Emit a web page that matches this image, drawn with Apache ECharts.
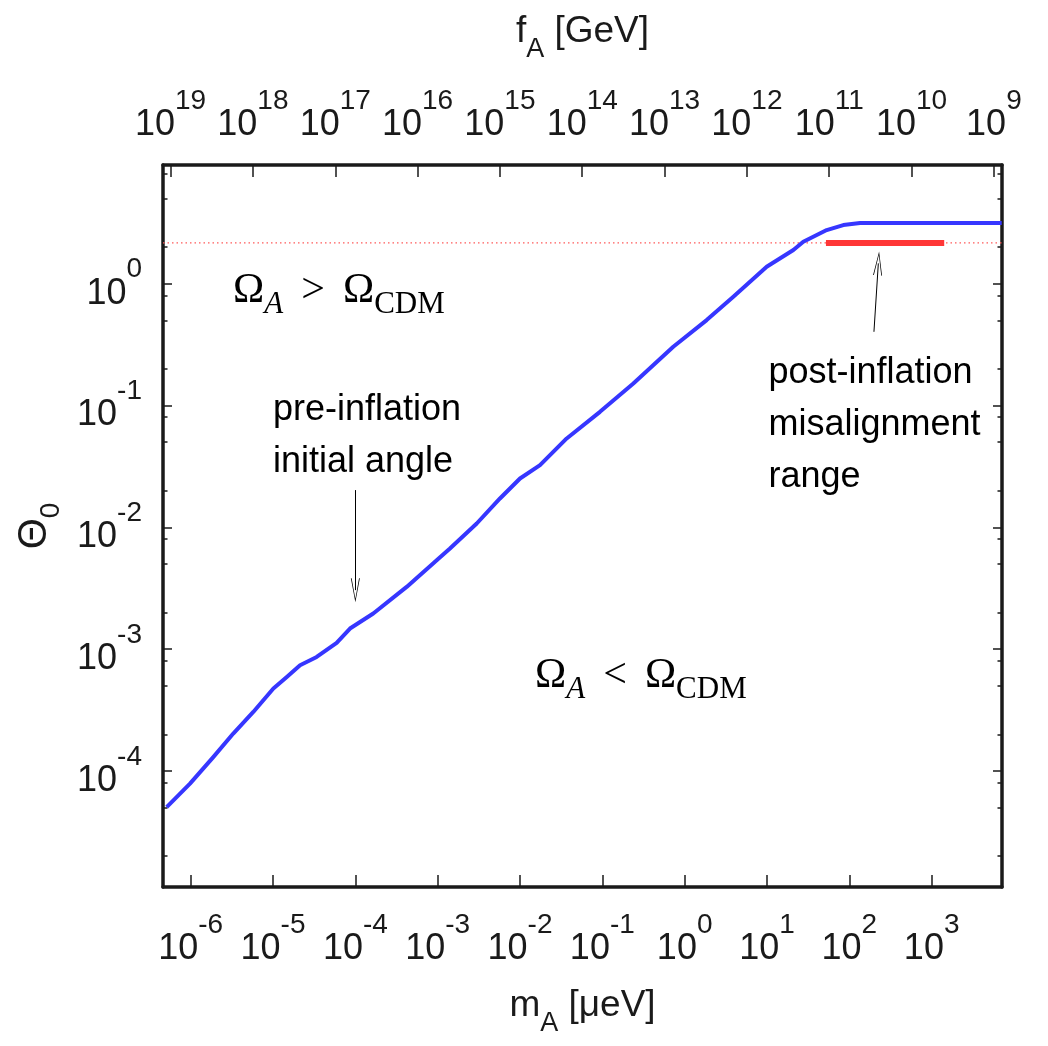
<!DOCTYPE html>
<html>
<head>
<meta charset="utf-8">
<title>Theta_0 vs m_A</title>
<script src="https://cdn.jsdelivr.net/npm/echarts@6/dist/echarts.min.js"></script>
<style>
  html, body { margin: 0; padding: 0; background: #fff; }
  #chart { width: 1048px; height: 1046px; }
</style>
</head>
<body>
<div id="chart"></div>
<script>
// axion mass m_A [μeV] and initial misalignment angle Θ_0
const massValues = [
  5.11e-7, 9.81e-7, 1.88e-6, 3.29e-6, 5.76e-6, 1.01e-5, 1.47e-5, 2.13e-5,
  3.39e-5, 5.93e-5, 8.61e-5, 1.65e-4, 4.20e-4, 9.73e-4, 1.41e-3, 2.98e-3,
  5.71e-3, 1.00e-2, 1.75e-2, 3.69e-2, 9.36e-2, 0.238, 0.727, 1.85,
  3.90, 9.91, 20.9, 27.6, 53.1, 84.5, 135, 7090
]
const thetaValues = [
  5.06e-5, 7.88e-5, 1.30e-4, 2.03e-4, 3.05e-4, 4.75e-4, 5.91e-4, 7.38e-4,
  8.63e-4, 1.125e-3, 1.476e-3, 1.96e-3, 3.24e-3, 5.37e-3, 6.70e-3, 1.074e-2,
  1.724e-2, 2.516e-2, 3.236e-2, 5.36e-2, 8.86e-2, 0.1516, 0.3028, 0.5017,
  0.779, 1.374, 1.884, 2.204, 2.75, 3.022, 3.14, 3.14
]

// post-inflation range (mass window) and its average angle
const postInflationMass = [52, 1420]
const postInflationTheta = 2.155

// axis ranges
const massRange = [4.61e-7, 7.15e3]
const thetaRange = [1.117e-5, 9.40]
// f_A [GeV] = F_CONV / m_A [μeV]
const F_CONV = 5.7e12

// tick positions
const massTicks = [1e-6, 1e-5, 1e-4, 1e-3, 1e-2, 1e-1, 1, 10, 100, 1000]
const faTicks = [1e9, 1e10, 1e11, 1e12, 1e13, 1e14, 1e15, 1e16, 1e17, 1e18, 1e19]
const thetaTicks = [1e-4, 1e-3, 1e-2, 1e-1, 1]
const thetaMinorTicks = [
  2e-5, 5e-5, 8e-5, 2e-4, 5e-4, 8e-4, 2e-3, 5e-3, 8e-3,
  2e-2, 5e-2, 8e-2, 0.2, 0.5, 0.8, 2, 5, 8
]

const SANS = "'Liberation Sans', Arial, sans-serif"
const SERIF = "'Liberation Serif', 'DejaVu Serif', serif"
const INK = '#1a1a1a'

// open arrow head, tip pointing up
const ARROW = 'path://M5,0 L10,24 L9.1,24 L5,3.5 L0.9,24 L0,24 Z'

const powLabel = v => '{b|10}{s|' + Math.round(Math.log10(v)) + '}'

const tickRich = {
  b: { fontFamily: SANS, fontSize: 36, lineHeight: 56, verticalAlign: 'bottom', color: INK },
  s: { fontFamily: SANS, fontSize: 28, lineHeight: 30, verticalAlign: 'top', color: INK }
}

const titleRich = {
  n: { fontFamily: SANS, fontSize: 37, lineHeight: 50, verticalAlign: 'top', color: INK },
  i: { fontFamily: SANS, fontSize: 27, lineHeight: 28, verticalAlign: 'bottom', color: INK }
}

const omegaRich = {
  o: { fontFamily: SERIF, fontSize: 42, lineHeight: 50, verticalAlign: 'top', color: '#000' },
  r: { fontFamily: SERIF, fontSize: 42, lineHeight: 50, verticalAlign: 'top', color: '#000', padding: [0, 18] },
  a: { fontFamily: SERIF, fontStyle: 'italic', fontSize: 31, lineHeight: 26, verticalAlign: 'bottom', color: '#000' },
  c: { fontFamily: SERIF, fontSize: 31, lineHeight: 26, verticalAlign: 'bottom', color: '#000' }
}

const axisLine = { show: true, lineStyle: { color: INK, width: 3.5 } }
const majorTick = (len, values) => ({
  show: true, inside: true, length: len, customValues: values,
  lineStyle: { color: INK, width: 1.5 }
})

const chart = echarts.init(document.getElementById('chart'), null, { renderer: 'canvas' })

const option = {
  animation: false,
  backgroundColor: '#fff',
  grid: { left: 163, right: 46, top: 165, bottom: 159, outerBoundsMode: 'none' },
  xAxis: [
    {
      type: 'log', position: 'bottom',
      min: massRange[0], max: massRange[1],
      axisLine: axisLine,
      axisTick: majorTick(12, massTicks),
      axisLabel: { margin: 24, customValues: massTicks, formatter: powLabel, rich: tickRich },
      splitLine: { show: false },
      name: '{n|m}{i|A}{n| [μeV]}',
      nameLocation: 'middle', nameGap: 100,
      nameTextStyle: { rich: titleRich }
    },
    {
      type: 'log', position: 'top', inverse: true,
      min: F_CONV / massRange[1], max: F_CONV / massRange[0],
      axisLine: axisLine,
      axisTick: majorTick(12, faTicks),
      axisLabel: { margin: 22, customValues: faTicks, formatter: powLabel, rich: tickRich },
      splitLine: { show: false },
      name: '{n|f}{i|A}{n| [GeV]}',
      nameLocation: 'middle', nameGap: 102,
      nameTextStyle: { rich: titleRich }
    }
  ],
  yAxis: [
    {
      type: 'log', position: 'left',
      min: thetaRange[0], max: thetaRange[1],
      axisLine: axisLine,
      axisTick: majorTick(9, thetaTicks),
      axisLabel: { margin: 21, customValues: thetaTicks, formatter: powLabel, rich: tickRich },
      splitLine: { show: false },
      name: '{t|Θ}{i|0}',
      nameLocation: 'middle', nameGap: 98, nameRotate: 90,
      nameTextStyle: {
        rich: {
          t: { fontFamily: SANS, fontSize: 40, lineHeight: 50, verticalAlign: 'top', color: INK },
          i: { fontFamily: SANS, fontSize: 28, lineHeight: 28, verticalAlign: 'bottom', color: INK }
        }
      }
    },
    {
      type: 'log', position: 'left',
      min: thetaRange[0], max: thetaRange[1],
      axisLine: { show: false },
      axisTick: majorTick(4.5, thetaMinorTicks),
      axisLabel: { show: false },
      splitLine: { show: false }
    },
    {
      type: 'log', position: 'right',
      min: thetaRange[0], max: thetaRange[1],
      axisLine: axisLine,
      axisTick: majorTick(9, thetaTicks),
      axisLabel: { show: false },
      splitLine: { show: false }
    },
    {
      type: 'log', position: 'right',
      min: thetaRange[0], max: thetaRange[1],
      axisLine: { show: false },
      axisTick: majorTick(4.5, thetaMinorTicks),
      axisLabel: { show: false },
      splitLine: { show: false }
    }
  ],
  series: [
    {
      name: 'mean angle',
      type: 'line',
      symbol: 'none',
      silent: true,
      data: massRange.map(m => [m, postInflationTheta]),
      lineStyle: { color: '#ff5a5a', width: 1.2, type: [1.5, 3] }
    },
    {
      name: 'post-inflation',
      type: 'line',
      symbol: 'none',
      silent: true,
      data: postInflationMass.map(m => [m, postInflationTheta]),
      lineStyle: { color: '#ff3636', width: 6 }
    },
    {
      name: 'theta0',
      type: 'line',
      symbol: 'none',
      silent: true,
      smooth: false,
      data: massValues.map((m, i) => [m, thetaValues[i]]),
      lineStyle: { color: '#3636ff', width: 4, join: 'round' },
      markLine: {
        silent: true,
        symbol: ['none', ARROW],
        symbolSize: [9, 24],
        label: { show: false },
        lineStyle: { color: '#000', width: 1, type: 'solid' },
        data: [
          [{ coord: [1e-4, 0.0202] }, { coord: [1e-4, 3.05e-3] }],
          [{ coord: [199, 0.402] }, { coord: [225, 1.465] }]
        ]
      },
      markPoint: {
        silent: true,
        symbol: 'circle',
        symbolSize: 0,
        itemStyle: { color: 'transparent' },
        label: { show: true, color: '#000', fontFamily: SANS, fontSize: 36, lineHeight: 52 },
        data: [
          {
            coord: [6.32e-5, 0.804],
            label: { position: 'inside', formatter: '{o|Ω}{a|A}{r|>}{o|Ω}{c|CDM}', rich: omegaRich }
          },
          {
            coord: [0.294, 5.55e-4],
            label: { position: 'inside', formatter: '{o|Ω}{a|A}{r|<}{o|Ω}{c|CDM}', rich: omegaRich }
          },
          {
            coord: [1e-5, 0.056],
            label: { position: 'right', distance: 0, align: 'left', formatter: 'pre-inflation\ninitial angle' }
          },
          {
            coord: [10.4, 0.0684],
            label: { position: 'right', distance: 0, align: 'left', formatter: 'post-inflation\nmisalignment\nrange' }
          }
        ]
      }
    }
  ]
}

chart.setOption(option)
</script>
</body>
</html>
